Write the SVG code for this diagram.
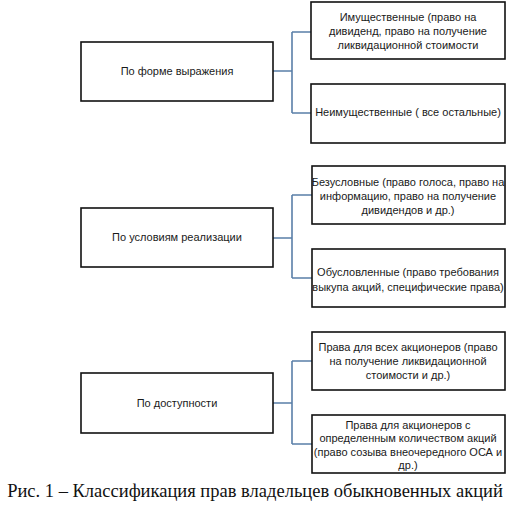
<svg xmlns="http://www.w3.org/2000/svg" width="509" height="506" viewBox="0 0 509 506">
<style>
.box{fill:#fff;stroke:#111;stroke-width:1.6}
.t{font-family:"Liberation Sans",Arial,sans-serif;font-size:11px;fill:#1a1a1a;text-anchor:middle;dominant-baseline:central}
.con{fill:none;stroke:#5a7fa8;stroke-width:1.6}
.cap{font-family:"Liberation Serif","Times New Roman",serif;font-size:18.5px;fill:#111;text-anchor:middle}
</style>
<rect width="509" height="506" fill="#fff"/>
<g id="connectors">
<path class="con" d="M273,71 H292 M292,32 V113 M292,32 H311 M292,113 H311"/>
<path class="con" d="M273,238 H292 M292,195 V278 M292,195 H312 M292,278 H312"/>
<path class="con" d="M273,403 H292 M292,361 V444 M292,361 H312 M292,444 H312"/>
</g>
<g id="n1"><rect class="box" x="81" y="42" width="192" height="59"/><text class="t" x="177" y="71">По форме выражения</text></g>
<g id="n1a"><rect class="box" x="311" y="2" width="194" height="57"/>
<text class="t" x="408" y="17">Имущественные (право на</text>
<text class="t" x="408" y="31">дивиденд, право на получение</text>
<text class="t" x="408" y="45">ликвидационной стоимости</text></g>
<g id="n1b"><rect class="box" x="311" y="84" width="194" height="59"/>
<text class="t" x="408" y="112">Неимущественные ( все остальные)</text></g>
<g id="n2"><rect class="box" x="81" y="208" width="192" height="59"/><text class="t" x="177" y="237">По условиям реализации</text></g>
<g id="n2a"><rect class="box" x="312" y="166" width="193" height="58"/>
<text class="t" x="408" y="182">Безусловные (право голоса, право на</text>
<text class="t" x="408" y="196">информацию, право на получение</text>
<text class="t" x="408" y="210">дивидендов и др.)</text></g>
<g id="n2b"><rect class="box" x="312" y="249" width="193" height="58"/>
<text class="t" x="408" y="272">Обусловленные (право требования</text>
<text class="t" x="408" y="287">выкупа акций, специфические права)</text></g>
<g id="n3"><rect class="box" x="81" y="373" width="192" height="60"/><text class="t" x="177" y="403">По доступности</text></g>
<g id="n3a"><rect class="box" x="312" y="332" width="193" height="58"/>
<text class="t" x="408" y="347">Права для всех акционеров (право</text>
<text class="t" x="408" y="361">на получение ликвидационной</text>
<text class="t" x="408" y="375">стоимости и др.)</text></g>
<g id="n3b"><rect class="box" x="312" y="415" width="193" height="58"/>
<text class="t" x="408" y="425">Права для акционеров с</text>
<text class="t" x="408" y="438">определенным количеством акций</text>
<text class="t" x="408" y="452">(право созыва внеочередного ОСА и</text>
<text class="t" x="408" y="465">др.)</text></g>
<text class="cap" x="255" y="497">Рис. 1 – Классификация прав владельцев обыкновенных акций</text>
</svg>
